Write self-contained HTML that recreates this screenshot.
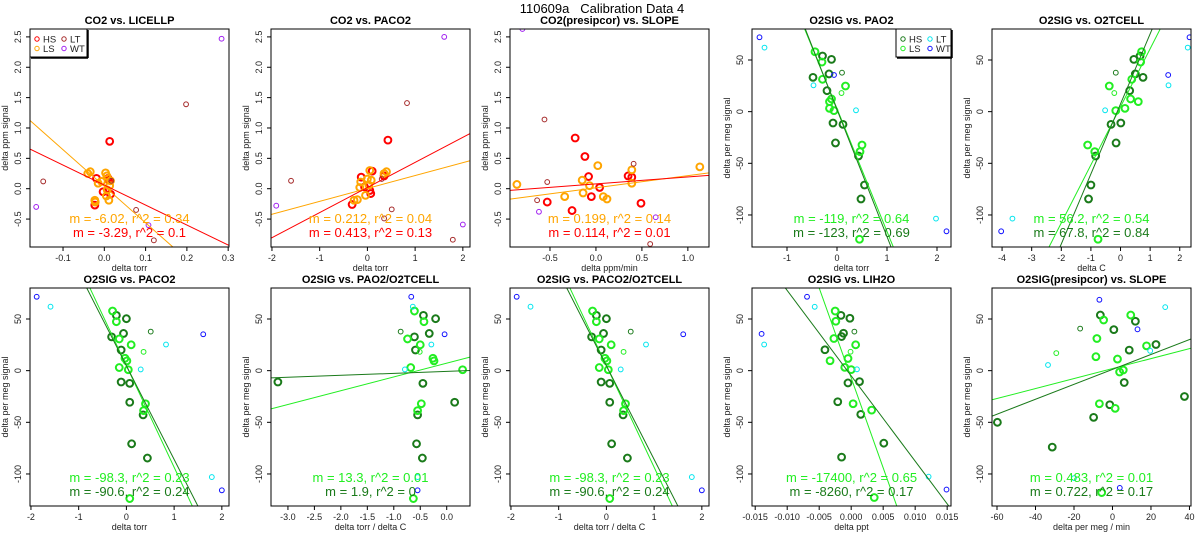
<!DOCTYPE html>
<html><head><meta charset="utf-8"><style>
html,body{margin:0;padding:0;background:#fff;width:1200px;height:550px;overflow:hidden;}
svg{display:block;font-family:"Liberation Sans",sans-serif;overflow:hidden;}
</style></head><body>
<svg id="chart" width="1200" height="550" viewBox="0 0 1200 550">
<text x="602" y="13" font-size="13" text-anchor="middle" style="white-space:pre" xml:space="preserve">110609a   Calibration Data 4</text>
</svg>
<script>
// ---------- data ----------
const p1HS=[[0.013,0.78],[-0.019,0.17],[-0.023,-0.27],[-0.003,-0.05],[0.015,-0.09],[0.009,0.17],[0.012,0.14]];
const p1LS=[[-0.034,0.28],[-0.04,0.25],[-0.015,0.09],[-0.007,0.12],[0.003,0.26],[0.006,0.21],[0.005,-0.12],[0.011,-0.19],[0.013,0.05],[0.007,-0.02],[-0.023,-0.19],[-0.022,-0.22],[0.015,0.13]];
const p1LT=[[-0.148,0.12],[0.198,1.39],[0.077,-0.35],[0.12,-0.85],[0.017,0.13]];
const p1WT=[[-0.165,-0.3],[0.284,2.47],[0.107,-0.6]];
const p2HS=[[0.43,0.8],[-0.13,0.19],[-0.32,-0.26],[0.1,0.29],[0.35,0.21],[0.05,-0.03],[0.07,-0.08],[-0.06,0.03]];
const p2LS=[[0.05,0.3],[0.4,0.28],[0.35,0.25],[-0.14,0.11],[0.08,0.14],[0,0.16],[-0.16,0.02],[-0.04,-0.11],[-0.21,-0.18],[-0.28,-0.19],[0.03,0.06]];
const p2LT=[[-1.6,0.13],[0.83,1.41],[0.51,-0.34],[1.79,-0.84],[0.3,0.16],[0.35,-0.49]];
const p2WT=[[-1.91,-0.28],[1.61,2.5],[2.0,-0.59]];
const p3HS=[[-0.226,0.835],[-0.12,0.53],[-0.08,0.2],[0.04,0.02],[-0.05,-0.13],[0.35,0.21],[0.39,0.19],[-0.53,-0.22],[-0.26,-0.36],[0.49,-0.24]];
const p3LS=[[-0.86,0.07],[0.02,0.38],[-0.15,0.14],[-0.07,0.05],[0.39,0.31],[0.39,0.09],[-0.14,-0.07],[-0.34,-0.13],[0.08,-0.13],[0.12,-0.17],[1.13,0.36]];
const p3LT=[[-0.56,1.14],[-0.53,0.11],[-0.64,-0.19],[0.41,0.41],[0.59,-0.91]];
const p3WT=[[-0.62,-0.38],[0.65,-0.47],[-0.8,2.63]];
const p4HS=[[-0.29,53.9],[-0.11,50.6],[-0.16,36.5],[-0.48,33.2],[-0.2,20.3],[-0.08,-11],[0.12,-12.3],[-0.03,-30.3],[0.43,-42.9],[0.55,-71],[0.48,-84.5]];
const p4LS=[[-0.44,58],[-0.3,48],[-0.29,31.3],[0.17,24.8],[-0.11,12.3],[-0.15,9.7],[-0.15,3.2],[-0.06,1],[0.5,-32.3],[0.46,-38.7],[0.45,-123.5]];
const p4HSx=[[0.1,37.7]];
const p4LSx=[[0.09,18]];
const p4LT=[[-1.45,62],[-0.47,25.5],[0.38,1.3],[1.98,-103.5]];
const p4WT=[[-1.55,72],[-0.06,35.5],[2.19,-115.8]];
const p5HS=[[0.66,53.9],[0.45,50.6],[0.5,36.5],[0.76,33.2],[0.31,20.3],[-0.32,-12.3],[0.01,-11],[-0.15,-30.3],[-0.84,-42.9],[-1.0,-71],[-1.08,-84.5]];
const p5LS=[[0.71,58],[0.68,48],[0.38,31.3],[-0.38,24.8],[0.34,12.3],[0.6,9.7],[0.15,3.2],[-0.16,1],[-1.11,-32.3],[-0.87,-38.7],[-0.76,-123.5]];
const p5HSx=[[-0.16,37.7]];
const p5LSx=[[-0.21,18]];
const p5LT=[[2.27,62],[1.62,25.5],[-0.52,1.3],[-3.65,-103.5]];
const p5WT=[[2.33,72],[1.61,35.5],[-4.03,-115.8]];
const p6HS=[[-0.21,53.5],[0,50.3],[-0.06,36],[-0.31,32.7],[-0.11,20],[-0.11,-11],[0.07,-12.3],[0.07,-30.6],[0.35,-42.8],[0.11,-70.8],[0.44,-84.6]];
const p6LS=[[-0.29,57.7],[-0.21,47.4],[-0.15,30.7],[0.1,25],[-0.03,12],[0.01,9.5],[-0.15,3],[0.04,0.9],[0.4,-32],[0.36,-38.7],[0.07,-123.8]];
const p6HSx=[[0.51,37.8]];
const p6LSx=[[0.36,18.2]];
const p6LT=[[-1.59,61.9],[0.83,25.3],[0.3,1.2],[1.79,-103]];
const p6WT=[[-1.88,71.5],[1.61,35.2],[2.0,-115.8]];
const p7HS=[[-0.44,53.5],[-0.21,50.3],[-0.33,36],[-0.61,32.7],[-0.59,20],[-0.45,-12.3],[-3.19,-11],[0.15,-30.6],[-0.55,-42.8],[-0.57,-70.8],[-0.46,-84.6]];
const p7LS=[[-0.61,57.7],[-0.43,47.4],[-0.74,30.7],[-0.5,25],[-0.26,12],[-0.24,9.5],[-0.68,3],[0.3,0.9],[-0.48,-32],[-0.55,-38.7],[-0.63,-123.8]];
const p7HSx=[[-0.87,37.8]];
const p7LSx=[[-0.51,18.2]];
const p7LT=[[-0.64,61.9],[-0.29,25.3],[-0.79,1.2],[-0.55,-103]];
const p7WT=[[-0.67,71.5],[-0.04,35.2],[-0.55,-115.8]];
const p9HS=[[-0.0016,53.5],[-0.0002,50.7],[-0.0012,36.2],[-0.0015,33],[-0.0041,20.2],[-0.0005,-11.9],[0.0013,-10.6],[-0.0021,-30.1],[0.0015,-42.3],[0.0051,-70.2],[-0.0015,-83.7]];
const p9LS=[[-0.0025,57.7],[-0.0024,47.8],[-0.0027,31.1],[0.0007,25],[-0.0033,9.6],[-0.0005,11.8],[-0.001,3.2],[0,1],[0.0032,-38.2],[0.0003,-32],[0.0036,-122.8]];
const p9HSx=[[0.0005,37.8]];
const p9LSx=[[-0.0001,18.3]];
const p9LT=[[-0.0057,61.8],[-0.0136,25.3],[0.0009,1.3],[0.0121,-102.6]];
const p9WT=[[-0.0069,71.5],[-0.014,35.6],[0.0149,-115.1]];
const p10HS=[[-6.3,53.8],[0.7,39.7],[11.9,47.8],[8.7,19.9],[22.6,25.3],[6.1,-11.5],[37.4,-25],[-1.4,-33],[-9.8,-45.2],[-59.8,-50],[-31.3,-74]];
const p10LS=[[9.5,53.8],[-4.6,49],[-8.1,31.1],[17.7,24],[-8.6,13.5],[2.6,11.2],[5.6,0.6],[3.7,-1.3],[-6.8,-32],[1.4,-36.5],[-5.6,-118]];
const p10HSx=[[-16.8,40.7]];
const p10LSx=[[-29.2,17]];
const p10LT=[[27.4,61.5],[-33.5,5.5],[19.6,19.2],[-20,-104]];
const p10WT=[[-6.8,68.6],[13,40],[3.8,-113.5]];
// fits: [slope, intercept] for LS line then HS line
const fitSlopes=[[-6.02,-3.29],[0.212,0.413],[0.199,0.114],[-119,-123],[56.2,67.8],[-98.3,-90.6],[13.3,1.9],[-98.3,-90.6],[-17400,-8260],[0.483,0.722]];
const fitIntercepts=[[0.04,0.06],[0.004,0.02],[0.015,0.08],[3,2],[4.7,7.5],[4.8,4.7],[7.2,-0.7],[4.8,4.7],[-7,-5],[2,1.2]];
const fitR2=[["0.34","0.1"],["0.04","0.13"],["0.14","0.01"],["0.64","0.69"],["0.54","0.84"],["0.23","0.24"],["0.01","0"],["0.23","0.24"],["0.65","0.17"],["0.01","0.17"]];
const fitLabels=[["-6.02","-3.29"],["0.212","0.413"],["0.199","0.114"],["-119","-123"],["56.2","67.8"],["-98.3","-90.6"],["13.3","1.9"],["-98.3","-90.6"],["-17400","-8260"],["0.483","0.722"]];
const titles=["CO2 vs. LICELLP","CO2 vs. PACO2","CO2(presipcor) vs. SLOPE","O2SIG vs. PAO2","O2SIG vs. O2TCELL","O2SIG vs. PACO2","O2SIG vs. PAO2/O2TCELL","O2SIG vs. PACO2/O2TCELL","O2SIG vs. LIH2O","O2SIG(presipcor) vs. SLOPE"];
const xTitles=["delta torr","delta torr","delta ppm/min","delta torr","delta C","delta torr","delta torr / delta C","delta torr / delta C","delta ppt","delta per meg / min"];
const xTicks=[[-0.1,0,0.1,0.2,0.3],[-2,-1,0,1,2],[-0.5,0,0.5,1.0],[-1,0,1,2],[-4,-3,-2,-1,0,1,2],[-2,-1,0,1,2],[-3,-2.5,-2,-1.5,-1,-0.5,0],[-2,-1,0,1,2],[-0.015,-0.01,-0.005,0,0.005,0.01,0.015],[-60,-40,-20,0,20,40]];
const xTickLabels=[["-0.1","0.0","0.1","0.2","0.3"],["-2","-1","0","1","2"],["-0.5","0.0","0.5","1.0"],["-1","0","1","2"],["-4","-3","-2","-1","0","1","2"],["-2","-1","0","1","2"],["-3.0","-2.5","-2.0","-1.5","-1.0","-0.5","0.0"],["-2","-1","0","1","2"],["-0.015","-0.010","-0.005","0.000","0.005","0.010","0.015"],["-60","-40","-20","0","20","40"]];
const co2YTicks=[-0.5,0,0.5,1,1.5,2,2.5];
const co2YLabels=["-0.5","0.0","0.5","1.0","1.5","2.0","2.5"];
const o2YTicks=[-100,-50,0,50];
const o2YLabels=["-100","-50","0","50"];

// ---------- layout ----------
const xDomains=[[-0.18,0.302],[-2.02,2.15],[-0.935,1.23],[-1.7,2.28],[-4.34,2.38],[-2.02,2.15],[-3.32,0.44],[-2.02,2.15],[-0.0155,0.0156],[-62.6,40.8]];
const lefts=[30,271,510,752,992];
const W=199;
const NS='http://www.w3.org/2000/svg';
const svg=document.getElementById('chart');
function mk(tag,attrs,parent){const e=document.createElementNS(NS,tag);for(const k in attrs)e.setAttribute(k,attrs[k]);(parent||svg).appendChild(e);return e;}

const co2Colors={HS:'#ff0000',LS:'#ffa500',LT:'#a52a2a',WT:'#a020f0'};
const o2Colors={HS:'#1a7a1a',LS:'#22ee22',HSx:'#1a7a1a',LSx:'#22ee22',LT:'#00e5ee',WT:'#1010ff'};
const seriesByPanel=[
 {HS:p1HS,LS:p1LS,LT:p1LT,WT:p1WT},{HS:p2HS,LS:p2LS,LT:p2LT,WT:p2WT},{HS:p3HS,LS:p3LS,LT:p3LT,WT:p3WT},
 {HS:p4HS,LS:p4LS,HSx:p4HSx,LSx:p4LSx,LT:p4LT,WT:p4WT},{HS:p5HS,LS:p5LS,HSx:p5HSx,LSx:p5LSx,LT:p5LT,WT:p5WT},
 {HS:p6HS,LS:p6LS,HSx:p6HSx,LSx:p6LSx,LT:p6LT,WT:p6WT},{HS:p7HS,LS:p7LS,HSx:p7HSx,LSx:p7LSx,LT:p7LT,WT:p7WT},
 {HS:p6HS,LS:p6LS,HSx:p6HSx,LSx:p6LSx,LT:p6LT,WT:p6WT},{HS:p9HS,LS:p9LS,HSx:p9HSx,LSx:p9LSx,LT:p9LT,WT:p9WT},
 {HS:p10HS,LS:p10LS,HSx:p10HSx,LSx:p10LSx,LT:p10LT,WT:p10WT}];

for(let i=0;i<10;i++){
  const row=i<5?0:1, col=i%5;
  const L=lefts[col], T=row?288:29, B=row?506:247, R=L+W;
  const isCO2=i<3;
  const yd=isCO2?[-0.96,2.63]:[-131,80];
  const xd=xDomains[i];
  const sx=v=>L+(v-xd[0])/(xd[1]-xd[0])*W;
  const sy=v=>B-(v-yd[0])/(yd[1]-yd[0])*(B-T);
  const colors=isCO2?co2Colors:o2Colors;
  const g=mk('g',{});
  
  
  const cp=mk('clipPath',{id:'clip'+i},g);
  mk('rect',{x:L,y:T,width:W,height:B-T},cp);
  const t=mk('text',{x:L+W/2,y:T-5,'font-size':11,'font-weight':'bold','text-anchor':'middle'},g);
  t.textContent=titles[i];
  
  
  xTicks[i].forEach((v,k)=>{
    const x=sx(v);
    const tk=mk('line',{x1:x,x2:x,y1:B,y2:B+4,stroke:'#000','stroke-width':1},g);
    
    
    const tl=mk('text',{x:x,y:B+14,'font-size':9,'text-anchor':'middle',fill:'#222'},g);
    tl.textContent=xTickLabels[i][k];
    
    
  });
  const xt=mk('text',{x:L+W/2,y:B+24,'font-size':9,'text-anchor':'middle',fill:'#222'},g);
  xt.textContent=xTitles[i];
  
  
  const yt=isCO2?co2YTicks:o2YTicks, yl=isCO2?co2YLabels:o2YLabels;
  yt.forEach((v,k)=>{
    const y=sy(v);
    const tk=mk('line',{x1:L-4,x2:L,y1:y,y2:y,stroke:'#000','stroke-width':1},g);
    
    
    const tl=mk('text',{x:L-9,y:y,'font-size':9,'text-anchor':'middle',fill:'#222',transform:`rotate(-90 ${L-9} ${y})`},g);
    tl.textContent=yl[k];
    
    
  });
  const yx=L-22, ym=(T+B)/2;
  const ya=mk('text',{x:yx,y:ym,'font-size':9,'text-anchor':'middle',fill:'#222',transform:`rotate(-90 ${yx} ${ym})`},g);
  ya.textContent=isCO2?'delta ppm signal':'delta per meg signal';
  
  
  const ser=seriesByPanel[i];
  const pg=mk('g',{'clip-path':`url(#clip${i})`},g);
  for(const key in ser){
    const thick=(key==='HS'||key==='LS');
    ser[key].forEach(p=>{
      const c=mk('circle',{cx:sx(p[0]),cy:sy(p[1]),r:thick?3.4:2.4,fill:'none',stroke:colors[key],'stroke-width':thick?2:1},pg);
      
      
    });
  }
  ['LS','HS'].forEach((key,k)=>{
    const m=fitSlopes[i][k], b=fitIntercepts[i][k];
    const ln=mk('line',{x1:sx(xd[0]),y1:sy(m*xd[0]+b),x2:sx(xd[1]),y2:sy(m*xd[1]+b),stroke:colors[key],'stroke-width':1},pg);
    
    
  });
  ['LS','HS'].forEach((key,k)=>{
    const a=mk('text',{x:L+W/2,y:B-(k?10:24),'font-size':13,'text-anchor':'middle',fill:colors[key]},g);
    a.textContent=`m = ${fitLabels[i][k]}, r^2 = ${fitR2[i][k]}`;
    
    
  });
  const box=mk('rect',{x:L,y:T,width:W,height:B-T,fill:'none',stroke:'#000','stroke-width':1},g);
  
  
}

function legend(x,y,w,cols,id){
  const g=mk('g',{});
  
  
  mk('rect',{x:x,y:y,width:w,height:28,fill:'#fff',stroke:'#000','stroke-width':1},g);
  mk('line',{x1:x+1,y1:y+29,x2:x+w+1,y2:y+29,stroke:'#000','stroke-width':1.5},g);
  mk('line',{x1:x+w+1,y1:y+1,x2:x+w+1,y2:y+29,stroke:'#000','stroke-width':1.5},g);
  const items=[['HS',0,0],['LT',1,0],['LS',0,1],['WT',1,1]];
  items.forEach(it=>{
    const cx=x+7+it[1]*27, cy=y+10+it[2]*9.5;
    const c=mk('circle',{cx:cx,cy:cy,r:2.2,fill:'none',stroke:cols[it[0]],'stroke-width':1},g);
    
    
    const t=mk('text',{x:cx+6,y:cy+3.5,'font-size':9.5,fill:'#222'},g);
    t.textContent=it[0];
    
    
  });
}
legend(30,29,57,co2Colors,'legend-co2');
legend(896,29,55,o2Colors,'legend-o2');
</script>
</body></html>
